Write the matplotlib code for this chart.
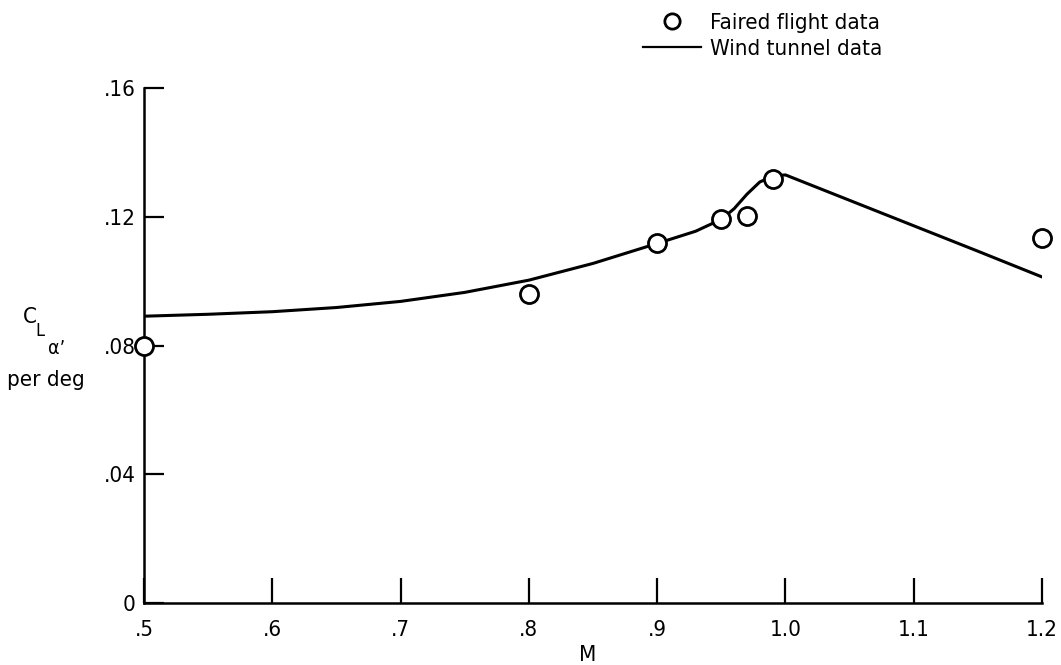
import matplotlib
matplotlib.use("Agg")
import matplotlib.pyplot as plt
from matplotlib.lines import Line2D

plt.rcParams['font.family'] = ['DejaVu Sans']
plt.rcParams['font.stretch'] = 'condensed'

# faired flight data (circles)
flight_M = [0.5, 0.8, 0.9, 0.95, 0.97, 0.99, 1.2]
flight_CL = [0.080, 0.0959, 0.1117, 0.1193, 0.1203, 0.1318, 0.1135]

# wind tunnel data (solid line)
tunnel_M = [0.5, 0.55, 0.6, 0.65, 0.7, 0.75, 0.8, 0.85, 0.9, 0.93, 0.95,
            0.96, 0.97, 0.98, 0.99, 1.0, 1.05, 1.1, 1.15, 1.2]
tunnel_CL = [0.0891, 0.0897, 0.0905, 0.0918, 0.0937, 0.0965, 0.1003, 0.1055,
             0.1117, 0.1155, 0.1192, 0.1225, 0.1270, 0.1308, 0.1326, 0.1330,
             0.1251, 0.1172, 0.1093, 0.1013]

xticks = [0.5, 0.6, 0.7, 0.8, 0.9, 1.0, 1.1, 1.2]
xlabels = ['.5', '.6', '.7', '.8', '.9', '1.0', '1.1', '1.2']
yticks = [0, 0.04, 0.08, 0.12, 0.16]
ylabels = ['0', '.04', '.08', '.12', '.16']

fig = plt.figure(figsize=(10.61, 6.65), dpi=100)
ax = fig.add_axes([144 / 1061, 62 / 665, 898 / 1061, 515 / 665])

ax.plot(tunnel_M, tunnel_CL, color='black', lw=2.2, zorder=3)
ax.plot(flight_M, flight_CL, 'o', ms=13, mfc='white', mec='black', mew=2,
        zorder=5, clip_on=False)

ax.set_xlim(0.5, 1.2)
ax.set_ylim(0, 0.16)
ax.set_xticks(xticks)
ax.set_xticklabels(xlabels)
ax.set_yticks(yticks)
ax.set_yticklabels(ylabels)

for s in ['top', 'right']:
    ax.spines[s].set_visible(False)
for s in ['left', 'bottom']:
    ax.spines[s].set_linewidth(1.8)

ax.tick_params(axis='x', direction='in', length=18, width=1.6, pad=12, labelsize=16)
ax.tick_params(axis='y', direction='in', length=14.5, width=1.6, pad=6, labelsize=16)

fig.text(588 / 1061, 1 - 655 / 665, 'M', fontsize=16, ha='center', va='center')

# y-axis label C_L_alpha', per deg
fig.text(30 / 1061, 1 - 317 / 665, 'C', fontsize=16, ha='center', va='center')
fig.text(40 / 1061, 1 - 331 / 665, 'L', fontsize=13, ha='center', va='center')
fig.text(57 / 1061, 1 - 349 / 665, "\u03b1\u2019", fontsize=14, ha='center', va='center')
fig.text(46 / 1061, 1 - 380 / 665, 'per deg', fontsize=16, ha='center', va='center')

handles = [Line2D([], [], ls='none', marker='o', ms=11, mfc='white', mec='black', mew=2),
           Line2D([], [], color='black', lw=1.6)]
fig.legend(handles, ['Faired flight data', 'Wind tunnel data'],
           loc='upper left', bbox_to_anchor=(632 / 1061, 1 - 2 / 665),
           frameon=False, fontsize=16, handlelength=2.6, handletextpad=0.4,
           labelspacing=0.25, borderpad=0)

fig.savefig('out.png', dpi=100)
